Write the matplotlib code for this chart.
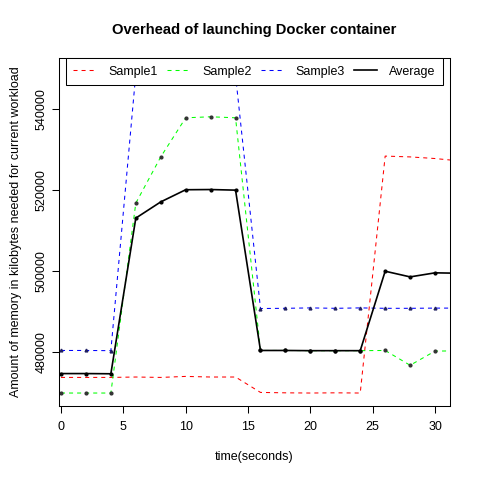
import numpy as np
import matplotlib.pyplot as plt

plt.rcParams['font.family'] = ['Liberation Sans', 'DejaVu Sans']
plt.rcParams['lines.scale_dashes'] = False

# time in seconds (last point lies past the visible x range)
t = [0, 2, 4, 6, 8, 10, 12, 14, 16, 18, 20, 22, 24, 26, 28, 30, 32]

sample1 = [473700, 473700, 473700, 473800, 473700, 473950, 473800, 473800,
           470000, 469900, 469850, 469900, 469850, 528300, 528100, 527700, 527100]
sample2 = [469850, 469850, 469850, 516700, 528100, 537750, 538000, 537750,
           480350, 480350, 480300, 480300, 480300, 480350, 476700, 480200, 480250]
sample3 = [480350, 480350, 480300, 548600, 549100, 548500, 548400, 548200,
           490700, 490750, 490850, 490750, 490850, 490750, 490750, 490800, 490800]
average = [474650, 474650, 474600, 513000, 517000, 520000, 520050, 519900,
           480350, 480350, 480300, 480300, 480300, 499900, 498500, 499500, 499400]

fig = plt.figure(figsize=(4.8, 4.8), dpi=100)
ax = fig.add_axes([59/480, 1 - 406/480, (450 - 59)/480, (406 - 58)/480])

dash = (2.9, 2.9)
ax.plot(t, sample1, color='#FF0000', lw=0.75, dashes=dash, label='Sample1')
ax.plot(t, sample2, color='#00FF00', lw=0.75, dashes=dash, label='Sample2',
        marker='o', ms=2.0, mfc='#333333', mec='#333333')
ax.plot(t, sample3, color='#0000FF', lw=0.75, dashes=dash, label='Sample3',
        marker='^', ms=2.0, mfc='#202060', mec='#202060')
ax.plot(t, average, color='black', lw=1.2, label='Average',
        marker='o', ms=2.0)

ax.set_xlim(-0.16, 31.2)
ax.set_ylim(466650, 552500)
ax.set_xticks([0, 5, 10, 15, 20, 25, 30])
ax.set_yticks([480000, 500000, 520000, 540000])
ax.set_yticklabels(['480000', '500000', '520000', '540000'], rotation=90, va='center')
ax.tick_params(labelsize=9, length=5, width=0.75)
ax.tick_params(axis='y', pad=3)
ax.tick_params(axis='x', pad=6)
for s in ax.spines.values():
    s.set_linewidth(0.75)

ax.set_xlabel('time(seconds)', fontsize=9, labelpad=13)
ax.set_ylabel('Amount of memory in kilobytes needed for current workload', fontsize=9, labelpad=10)
fig.text(254.5/480, 1 - 30/480, 'Overhead of launching Docker container',
         fontsize=10.6, fontweight='bold', ha='center', va='center')

leg = ax.legend(loc='upper center', bbox_to_anchor=(0.5, 1.0), ncol=4, fontsize=9,
                frameon=True, fancybox=False, edgecolor='black', framealpha=1,
                borderaxespad=0, handlelength=1.8, handletextpad=1.0, columnspacing=0.75,
                borderpad=0.6)
leg.get_frame().set_linewidth(0.75)
for h in leg.legend_handles:
    h.set_marker('')

fig.savefig('out.png', dpi=100)
